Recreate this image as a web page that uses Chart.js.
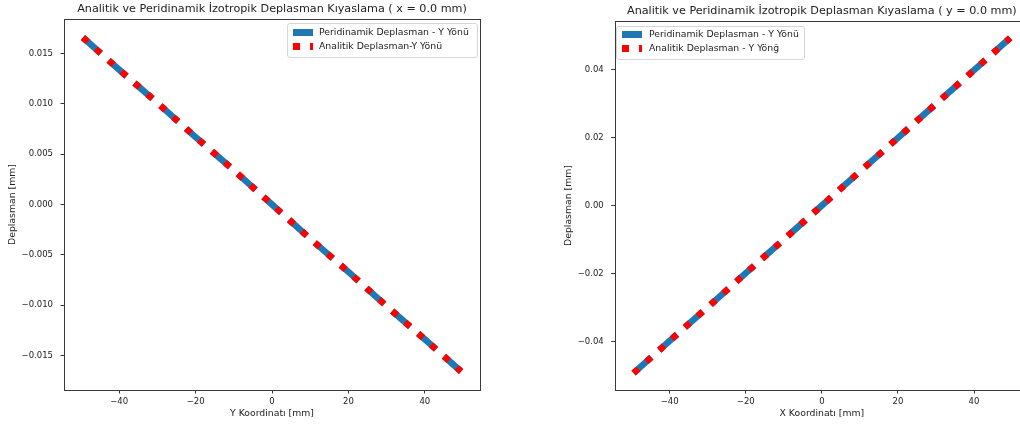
<!DOCTYPE html>
<html>
<head>
<meta charset="utf-8">
<script src="https://cdn.jsdelivr.net/npm/chart.js@4.4.1/dist/chart.umd.min.js"></script>
<style>
  body { margin: 0; width: 1020px; height: 427px; overflow: hidden; background: #fff; position: relative; font-family: "DejaVu Sans", sans-serif; }
  .wrap { position: absolute; top: 0; }
  .legend { position: absolute; border: 1px solid #d6d6d6; border-radius: 3px; background: rgba(255,255,255,0.8); font-size: 9.3px; color: #222; }
  .legend span { position: absolute; }
  .legend .txt { white-space: nowrap; line-height: 11px; }
</style>
</head>
<body>
<div class="wrap" style="left:0;width:544px;height:427px"><canvas id="leftChart" width="544" height="427"></canvas></div>
<div class="wrap" style="left:544px;width:556px;height:427px"><canvas id="rightChart" width="556" height="427"></canvas></div>
<div id="leftLegend" class="legend" style="left:287px;top:23px;width:189px;height:33px"></div>
<div id="rightLegend" class="legend" style="left:616px;top:26px;width:187px;height:32px"></div>

<script>
// sol grafik: x = 0.0 mm boyunca, Y koordinatına göre
const leftX = [-49.5, -40, -30, -20, -10, 0, 10, 20, 30, 40, 49.5];
const leftPeri = [0.0166, 0.0134, 0.0101, 0.0067, 0.0034, 0.0000, -0.0034, -0.0067, -0.0101, -0.0134, -0.0166];
const leftAnal = [0.0166, 0.0134, 0.0101, 0.0067, 0.0034, 0.0000, -0.0034, -0.0067, -0.0101, -0.0134, -0.0166];

// sağ grafik: y = 0.0 mm boyunca, X koordinatına göre
const rightX = [-49.5, -40, -30, -20, -10, 0, 10, 20, 30, 40, 49.5];
const rightPeri = [-0.0493, -0.0398, -0.0299, -0.0199, -0.0100, 0.0000, 0.0100, 0.0199, 0.0299, 0.0398, 0.0493];
const rightAnal = [-0.0493, -0.0398, -0.0299, -0.0199, -0.0100, 0.0000, 0.0100, 0.0199, 0.0299, 0.0398, 0.0493];

const xTicks = [-40, -20, 0, 20, 40];
const xTickLabels = ["\u221240", "\u221220", "0", "20", "40"];
const leftYTicks = [-0.015, -0.010, -0.005, 0.000, 0.005, 0.010, 0.015];
const leftYTickLabels = ["\u22120.015", "\u22120.010", "\u22120.005", "0.000", "0.005", "0.010", "0.015"];
const rightYTicks = [-0.04, -0.02, 0.00, 0.02, 0.04];
const rightYTickLabels = ["\u22120.04", "\u22120.02", "0.00", "0.02", "0.04"];

const blue = "#1f77b4";
const red = "#ff0000";
const font = "DejaVu Sans";

// çerçeve + eksen alanına ortalanmış başlık
const boxPlugin = {
    id: "box",
    afterDraw(chart, args, opts) {
        const a = chart.chartArea;
        const ctx = chart.ctx;
        ctx.save();
        ctx.strokeStyle = "#3a3a3a";
        ctx.lineWidth = 1;
        ctx.strokeRect(Math.round(a.left) + 0.5, Math.round(a.top) + 0.5,
            Math.round(a.right - a.left), Math.round(a.bottom - a.top));
        ctx.fillStyle = "#222";
        ctx.font = "11.2px 'DejaVu Sans'";
        ctx.textAlign = "center";
        ctx.textBaseline = "middle";
        ctx.fillText(opts.text, (a.left + a.right) / 2, opts.y);
        ctx.restore();
    }
};

function pts(xs, ys) {
    return xs.map((x, i) => ({ x: x, y: ys[i] }));
}

function makeChart(id, cfg) {
    const tickGrid = { display: true, drawOnChartArea: false, drawTicks: true, tickLength: 3.5, tickColor: "#333" };
    return new Chart(document.getElementById(id), {
        type: "line",
        data: {
            datasets: [
                {
                    label: cfg.analLabel,
                    data: pts(cfg.x, cfg.anal),
                    borderColor: red,
                    borderWidth: 6.5,
                    borderDash: [6.5, 10.7],
                    pointRadius: 0,
                    order: 0
                },
                {
                    label: cfg.periLabel,
                    data: pts(cfg.x, cfg.peri),
                    borderColor: blue,
                    borderWidth: 6.5,
                    borderDash: [24, 10.4],
                    pointRadius: 0,
                    order: 1
                }
            ]
        },
        options: {
            responsive: false,
            animation: false,
            layout: { padding: { left: 0, right: cfg.padRight, top: cfg.padTop, bottom: 0 } },
            plugins: {
                legend: { display: false },
                tooltip: { enabled: false },
                title: { display: false },
                box: { text: cfg.title, y: cfg.titleY }
            },
            scales: {
                x: {
                    type: "linear",
                    min: cfg.xMin, max: cfg.xMax,
                    grid: tickGrid,
                    border: { display: false },
                    afterBuildTicks: s => { s.ticks = xTicks.map(v => ({ value: v })); },
                    afterFit: s => { s.height = 37; },
                    ticks: {
                        autoSkip: false, maxRotation: 0, padding: 3.4,
                        color: "#222", font: { family: font, size: 8.5 },
                        callback: (v, i) => xTickLabels[i]
                    },
                    title: {
                        display: true, text: cfg.xTitle, color: "#222",
                        font: { family: font, size: 9.3 }, padding: { top: 0, bottom: 7.4 }
                    }
                },
                y: {
                    min: cfg.yMin, max: cfg.yMax,
                    grid: tickGrid,
                    border: { display: false },
                    afterBuildTicks: s => { s.ticks = cfg.yTicks.map(v => ({ value: v })); },
                    afterFit: s => { s.width = cfg.yWidth; },
                    ticks: {
                        autoSkip: false, padding: 7.5,
                        color: "#222", font: { family: font, size: 8.5 },
                        callback: (v, i) => cfg.yLabels[i]
                    },
                    title: {
                        display: true, text: "Deplasman [mm]", color: "#222",
                        font: { family: font, size: 9.3 }, padding: { top: cfg.yTitlePad, bottom: 0 }
                    }
                }
            }
        },
        plugins: [boxPlugin]
    });
}

makeChart("leftChart", {
    title: "Analitik ve Peridinamik \u0130zotropik Deplasman K\u0131yaslama ( x = 0.0 mm)",
    periLabel: "Peridinamik Deplasman - Y Y\u00f6n\u00fc",
    analLabel: "Analitik Deplasman-Y Y\u00f6n\u00fc",
    x: leftX, peri: leftPeri, anal: leftAnal,
    xMin: -54.45, xMax: 54.45,
    yMin: -0.01844, yMax: 0.01844,
    yTicks: leftYTicks, yLabels: leftYTickLabels,
    xTitle: "Y Koordinat\u0131 [mm]",
    yWidth: 64, yTitlePad: 7.4, padRight: 64,
    padTop: 19, titleY: 9.3
});

makeChart("rightChart", {
    title: "Analitik ve Peridinamik \u0130zotropik Deplasman K\u0131yaslama ( y = 0.0 mm)",
    periLabel: "Peridinamik Deplasman - Y Y\u00f6n\u00fc",
    analLabel: "Analitik Deplasman - Y Y\u00f6n\u011f",
    x: rightX, peri: rightPeri, anal: rightAnal,
    xMin: -54.45, xMax: 54.45,
    yMin: -0.05426, yMax: 0.05426,
    yTicks: rightYTicks, yLabels: rightYTickLabels,
    xTitle: "X Koordinat\u0131 [mm]",
    yWidth: 70.7, yTitlePad: 19.4, padRight: 71,
    padTop: 21, titleY: 11
});

// matplotlib tarzı lejant (grafiğin içinde)
function legend(id, labels, rowY, textX) {
    const el = document.getElementById(id);
    const rows = [
        `<span style="left:5px;top:${rowY[0] - 3}px;width:20px;height:6.5px;background:${blue}"></span>`,
        `<span class="txt" style="left:${textX}px;top:${rowY[0] - 6}px">${labels[0]}</span>`,
        `<span style="left:5px;top:${rowY[1] - 3}px;width:6.5px;height:6.5px;background:${red}"></span>`,
        `<span style="left:22px;top:${rowY[1] - 3}px;width:3px;height:6.5px;background:${red}"></span>`,
        `<span class="txt" style="left:${textX}px;top:${rowY[1] - 6}px">${labels[1]}</span>`
    ];
    el.innerHTML = rows.join("");
}
legend("leftLegend", ["Peridinamik Deplasman - Y Y\u00f6n\u00fc", "Analitik Deplasman-Y Y\u00f6n\u00fc"], [8, 22], 31);
legend("rightLegend", ["Peridinamik Deplasman - Y Y\u00f6n\u00fc", "Analitik Deplasman - Y Y\u00f6n\u011f"], [7, 21], 32);
</script>
</body>
</html>
